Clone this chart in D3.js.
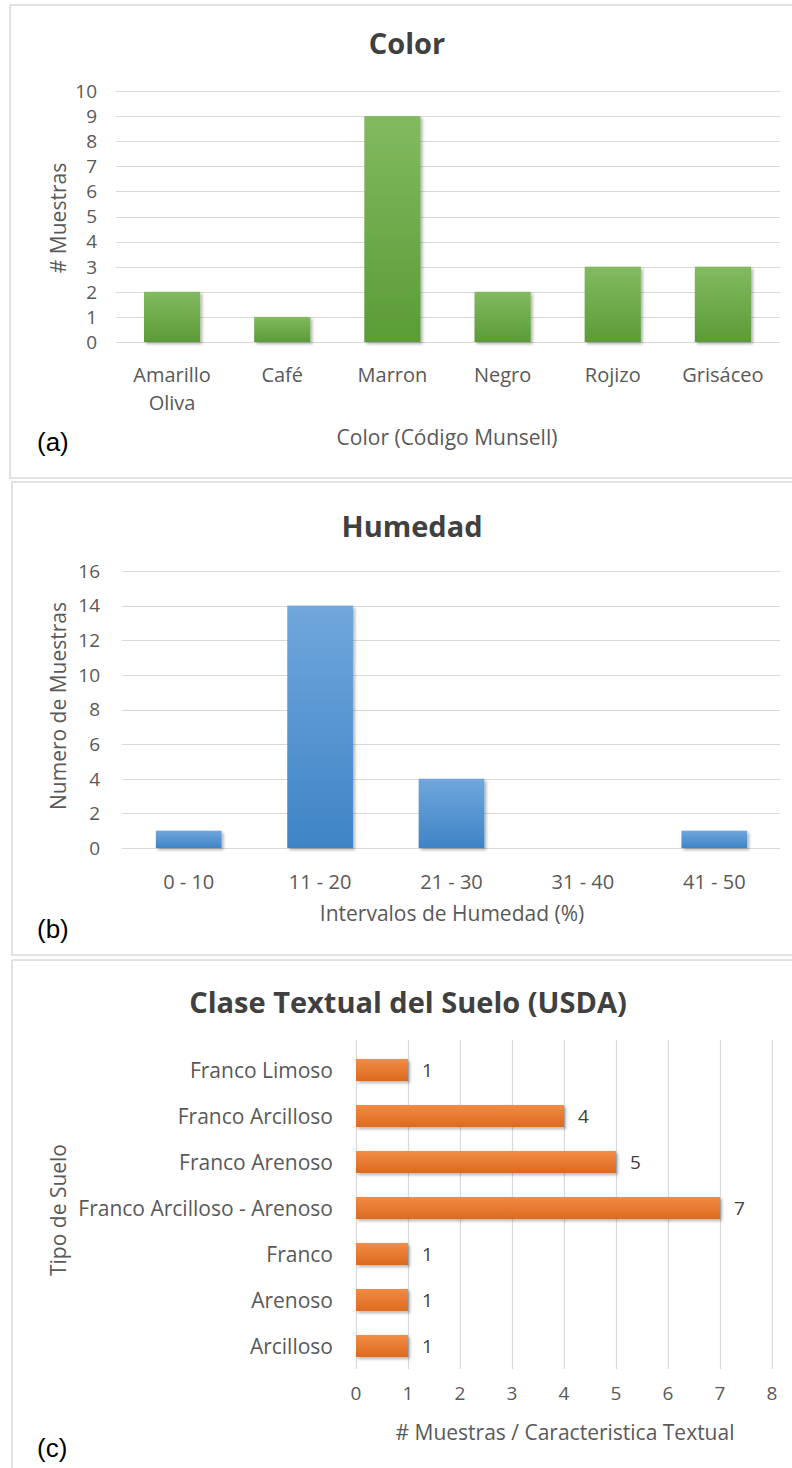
<!DOCTYPE html>
<html>
<head>
<meta charset="utf-8">
<script src="https://cdn.jsdelivr.net/npm/d3@7"></script>
<style>
  html, body { margin: 0; padding: 0; background: #fff; }
  svg { display: block; }
  text { font-family: "Open Sans", "Noto Sans", sans-serif; fill: #595959; }
</style>
</head>
<body>
<svg id="chart" width="792" height="1468"></svg>
<script>
// ---------- Data ----------
const colorCategories = ["Amarillo Oliva", "Café", "Marron", "Negro", "Rojizo", "Grisáceo"];
const colorValues = [2, 1, 9, 2, 3, 3];
const colorTicks = [0, 1, 2, 3, 4, 5, 6, 7, 8, 9, 10];

const humCategories = ["0 - 10", "11 - 20", "21 - 30", "31 - 40", "41 - 50"];
const humValues = [1, 14, 4, 0, 1];
const humTicks = [0, 2, 4, 6, 8, 10, 12, 14, 16];

const texCategories = ["Franco Limoso", "Franco Arcilloso", "Franco Arenoso", "Franco Arcilloso - Arenoso", "Franco", "Arenoso", "Arcilloso"];
const texValues = [1, 4, 5, 7, 1, 1, 1];
const texTicks = [0, 1, 2, 3, 4, 5, 6, 7, 8];

// ---------- Setup ----------
const svg = d3.select("#chart");
const defs = svg.append("defs");

function vGrad(id, top, bottom) {
  const g = defs.append("linearGradient").attr("id", id)
    .attr("x1", 0).attr("y1", 0).attr("x2", 0).attr("y2", 1);
  g.append("stop").attr("offset", "0%").attr("stop-color", top);
  g.append("stop").attr("offset", "100%").attr("stop-color", bottom);
}
vGrad("gGreen", "#82ba60", "#5a9c36");
vGrad("gBlue", "#70a7dc", "#3e84c6");
vGrad("gOrange", "#f28b45", "#dc6a1e");

const sh = defs.append("filter").attr("id", "shadow")
  .attr("x", "-20%").attr("y", "-20%").attr("width", "150%").attr("height", "150%");
sh.append("feDropShadow").attr("dx", 2).attr("dy", 2).attr("stdDeviation", 1.8)
  .attr("flood-color", "#000").attr("flood-opacity", 0.3);

const grid = "#d9d9d9";
const panelFont = "'Liberation Sans Narrow', 'Arial Narrow', 'Liberation Sans', sans-serif";
const TICK = "19px", CAT = "20px", AXT = "21px", TITLE = "29px", PANEL = "26px";

// Panel borders
[[10, 5, 473], [12, 482, 473], [12, 960, 520]].forEach(([x, y, h]) => {
  svg.append("rect").attr("x", x).attr("y", y).attr("width", 800).attr("height", h)
    .attr("fill", "none").attr("stroke", "#d9d9d9").attr("stroke-width", 1.5);
});

// ---------- Panel (a) Color ----------
(function () {
  const g = svg.append("g");
  const x = d3.scaleBand().domain(colorCategories).range([117, 778])
    .paddingInner(0.49).paddingOuter(0.245);
  const y = d3.scaleLinear().domain([0, 10]).range([342, 91]);

  g.append("text").attr("x", 407).attr("y", 54).attr("text-anchor", "middle")
    .style("font-size", TITLE).style("font-weight", "bold").style("fill", "#404040")
    .text("Color");

  g.selectAll(".grid").data(colorTicks).enter().append("line")
    .attr("x1", 116).attr("x2", 780)
    .attr("y1", d => Math.round(y(d)) + 0.5).attr("y2", d => Math.round(y(d)) + 0.5)
    .attr("stroke", grid).attr("stroke-width", 1.2);

  g.selectAll(".yt").data(colorTicks).enter().append("text")
    .attr("x", 97).attr("y", d => y(d)).attr("dy", "0.36em")
    .attr("text-anchor", "end").style("font-size", TICK).text(d => d);

  g.selectAll(".bar").data(colorValues).enter().append("rect")
    .attr("x", (d, i) => x(colorCategories[i]))
    .attr("width", x.bandwidth())
    .attr("y", d => y(d)).attr("height", d => y(0) - y(d))
    .attr("fill", "url(#gGreen)").attr("filter", "url(#shadow)");

  colorCategories.forEach(c => {
    const words = c === "Amarillo Oliva" ? ["Amarillo", "Oliva"] : [c];
    const t = g.append("text").attr("text-anchor", "middle").style("font-size", CAT);
    words.forEach((w, k) => {
      t.append("tspan").attr("x", x(c) + x.bandwidth() / 2).attr("y", 382 + k * 28).text(w);
    });
  });

  g.append("text").attr("x", 447).attr("y", 445).attr("text-anchor", "middle")
    .style("font-size", AXT).text("Color (Código Munsell)");

  g.append("text").attr("transform", "translate(66,218) rotate(-90)")
    .attr("text-anchor", "middle").style("font-size", AXT).text("# Muestras");

  g.append("text").attr("x", 37).attr("y", 451)
    .style("font-family", panelFont).style("font-size", PANEL).style("fill", "#000")
    .text("(a)");
})();

// ---------- Panel (b) Humedad ----------
(function () {
  const g = svg.append("g");
  const x = d3.scaleBand().domain(humCategories).range([123, 780])
    .paddingInner(0.5).paddingOuter(0.25);
  const y = d3.scaleLinear().domain([0, 16]).range([848, 571]);

  g.append("text").attr("x", 412).attr("y", 537).attr("text-anchor", "middle")
    .style("font-size", TITLE).style("font-weight", "bold").style("fill", "#404040")
    .text("Humedad");

  g.selectAll(".grid").data(humTicks).enter().append("line")
    .attr("x1", 122).attr("x2", 780)
    .attr("y1", d => Math.round(y(d)) + 0.5).attr("y2", d => Math.round(y(d)) + 0.5)
    .attr("stroke", grid).attr("stroke-width", 1.2);

  g.selectAll(".yt").data(humTicks).enter().append("text")
    .attr("x", 100).attr("y", d => y(d)).attr("dy", "0.36em")
    .attr("text-anchor", "end").style("font-size", TICK).text(d => d);

  g.selectAll(".bar").data(humValues).enter().append("rect")
    .attr("x", (d, i) => x(humCategories[i]))
    .attr("width", x.bandwidth())
    .attr("y", d => y(d)).attr("height", d => y(0) - y(d))
    .attr("fill", "url(#gBlue)").attr("filter", "url(#shadow)");

  g.selectAll(".xt").data(humCategories).enter().append("text")
    .attr("x", d => x(d) + x.bandwidth() / 2).attr("y", 889)
    .attr("text-anchor", "middle").style("font-size", CAT).text(d => d);

  g.append("text").attr("x", 452).attr("y", 921).attr("text-anchor", "middle")
    .style("font-size", AXT).text("Intervalos de Humedad (%)");

  g.append("text").attr("transform", "translate(66,706) rotate(-90)")
    .attr("text-anchor", "middle").style("font-size", AXT).text("Numero de Muestras");

  g.append("text").attr("x", 37).attr("y", 938)
    .style("font-family", panelFont).style("font-size", PANEL).style("fill", "#000")
    .text("(b)");
})();

// ---------- Panel (c) Clase Textual ----------
(function () {
  const g = svg.append("g");
  const x = d3.scaleLinear().domain([0, 8]).range([356, 772]);
  const y = d3.scaleBand().domain(texCategories).range([1047, 1369])
    .paddingInner(0.52).paddingOuter(0.26);

  g.append("text").attr("x", 408).attr("y", 1013).attr("text-anchor", "middle")
    .style("font-size", TITLE).style("font-weight", "bold").style("fill", "#404040")
    .text("Clase Textual del Suelo (USDA)");

  g.selectAll(".grid").data(texTicks).enter().append("line")
    .attr("x1", d => Math.round(x(d)) + 0.5).attr("x2", d => Math.round(x(d)) + 0.5)
    .attr("y1", 1040).attr("y2", 1369)
    .attr("stroke", grid).attr("stroke-width", 1.2);

  g.selectAll(".xt").data(texTicks).enter().append("text")
    .attr("x", d => x(d)).attr("y", 1400)
    .attr("text-anchor", "middle").style("font-size", TICK).text(d => d);

  g.selectAll(".bar").data(texValues).enter().append("rect")
    .attr("x", x(0))
    .attr("y", (d, i) => y(texCategories[i]))
    .attr("height", y.bandwidth())
    .attr("width", d => x(d) - x(0))
    .attr("fill", "url(#gOrange)").attr("filter", "url(#shadow)");

  g.selectAll(".yl").data(texCategories).enter().append("text")
    .attr("x", 333).attr("y", d => y(d) + y.bandwidth() / 2).attr("dy", "0.36em")
    .attr("text-anchor", "end").style("font-size", AXT).text(d => d);

  g.selectAll(".vl").data(texValues).enter().append("text")
    .attr("x", d => x(d) + 14)
    .attr("y", (d, i) => y(texCategories[i]) + y.bandwidth() / 2).attr("dy", "0.36em")
    .style("font-size", TICK).style("fill", "#404040").text(d => d);

  g.append("text").attr("x", 565).attr("y", 1440).attr("text-anchor", "middle")
    .style("font-size", AXT).text("# Muestras / Caracteristica Textual");

  g.append("text").attr("transform", "translate(66,1210) rotate(-90)")
    .attr("text-anchor", "middle").style("font-size", AXT).text("Tipo de Suelo");

  g.append("text").attr("x", 37).attr("y", 1457)
    .style("font-family", panelFont).style("font-size", PANEL).style("fill", "#000")
    .text("(c)");
})();
</script>
</body>
</html>
